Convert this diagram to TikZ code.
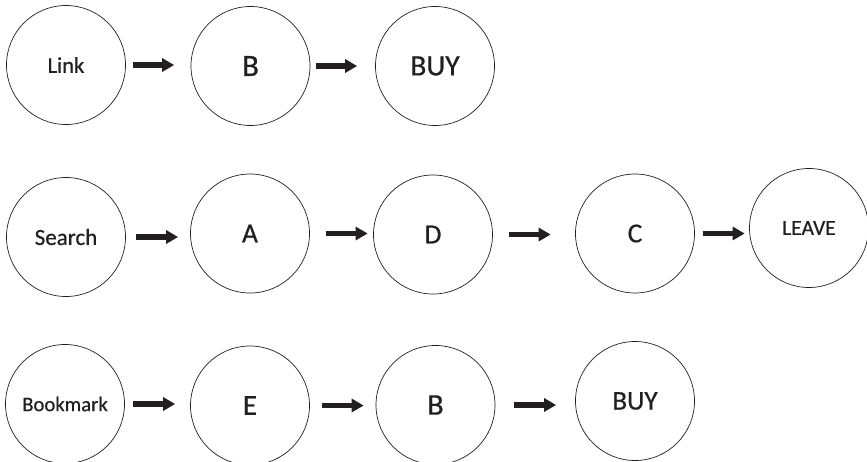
\documentclass[tikz,border=0pt]{standalone}
\usepackage{fontspec}
\newfontfamily\statefont{Carlito}[FakeBold=0.6]
\usetikzlibrary{arrows.meta}
\definecolor{ink}{HTML}{231F20}

\begin{document}
\begin{tikzpicture}[x=1pt,y=-1pt,
	state/.style={circle,draw=ink,line width=0.7pt,minimum size=119pt,inner sep=0pt,text=ink},
	flow/.style={-{Triangle[length=12pt,width=13pt]},line width=5.5pt,draw=ink}]
			\useasboundingbox (0,0) rectangle (867,461);
			% first row
			\node[state,font=\statefont\fontsize{22.5}{27}\selectfont] (link) at (66,65) {Link};
			\node[state,font=\statefont\fontsize{31}{37}\selectfont] (b1) at (250.5,66) {B};
			\node[state,font=\statefont\fontsize{29.5}{35}\selectfont] (buy1) at (435,66) {BUY};
			% second row
			\node[state,font=\statefont\fontsize{23}{28}\selectfont] (search) at (66,237) {Search};
			\node[state,font=\statefont\fontsize{27.5}{33}\selectfont] (a) at (250,233.5) {A};
			\node[state,font=\statefont\fontsize{27.5}{33}\selectfont] (d) at (433,234.5) {D};
			\node[state,font=\statefont\fontsize{27.5}{33}\selectfont] (c) at (635,233.5) {C};
			\node[state,font=\statefont\fontsize{21.5}{26}\selectfont] (leave) at (809,228) {LEAVE};
			% third row
			\node[state,font=\statefont\fontsize{20.7}{25}\selectfont] (bookmark) at (65,404) {Bookmark};
			\node[state,font=\statefont\fontsize{29}{35}\selectfont] (e) at (250,405.5) {E};
			\node[state,font=\statefont\fontsize{30}{36}\selectfont] (b2) at (435.5,405) {B};
			\node[state,font=\statefont\fontsize{27}{32}\selectfont] (buy2) at (635,401) {BUY};
			% arrows
			\draw[flow,shorten <=7pt,shorten >=16.5pt] (link.east) -- (link.east -| b1.west);
			\draw[flow,shorten <=5.5pt,shorten >=18pt] (b1.east) -- (b1.east -| buy1.west);
			\draw[flow,shorten <=10pt,shorten >=12pt] (search.east) -- (search.east -| a.west);
			\draw[flow,shorten <=16.5pt,shorten >=5.5pt] (a.east) -- (a.east -| d.west);
			\draw[flow,shorten <=16pt,shorten >=24.5pt] (d.east) -- (d.east -| c.west);
			\draw[flow,shorten <=8pt,shorten >=4.5pt] (c.east) -- (c.east -| leave.west);
			\draw[flow,shorten <=8pt,shorten >=15pt] (bookmark.east) -- (bookmark.east -| e.west);
			\draw[flow,shorten <=12pt,shorten >=12pt] (e.east) -- (e.east -| b2.west);
			\draw[flow,shorten <=18.5pt,shorten >=19pt] (b2.east) -- (b2.east -| buy2.west);
		\end{tikzpicture}
\end{document}
